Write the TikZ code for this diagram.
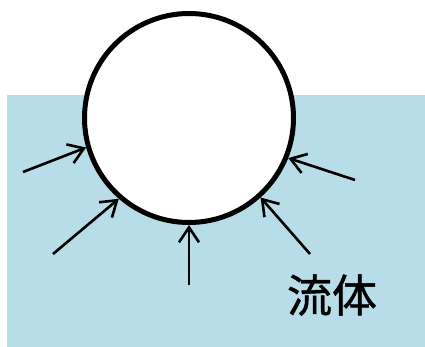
\documentclass[tikz,border=0pt]{standalone}
\usepackage{fontspec}
\newfontfamily\cjk[FakeBold=1]{Noto Sans CJK JP}
\usetikzlibrary{arrows.meta}
\definecolor{fluid}{RGB}{183,221,232}
\begin{document}
\begin{tikzpicture}[x=1pt,y=-1pt,
  push/.style={-{Straight Barb[length=15pt,width=20pt,line width=2.6pt]},line width=2.6pt,black},
  ballstyle/.style={circle,draw=black,fill=white,line width=5pt,minimum size=209pt,inner sep=0pt}]
\useasboundingbox (0,0) rectangle (425,347);
\fill[fluid] (7,95) rectangle (425,347);
\node[ballstyle] (ball) at (189,118) {};
\coordinate (t1) at (23,172);
\coordinate (t2) at (53,254);
\coordinate (t3) at (189,285);
\coordinate (t4) at (310,254);
\coordinate (t5) at (355,180);
\draw[push] (t1) -- (ball.196);
\draw[push] (t2) -- (ball.229);
\draw[push] (t3) -- (ball.270);
\draw[push] (t4) -- (ball.312);
\draw[push] (t5) -- (ball.338);
\node (label) at (332,295) {\cjk\fontsize{45}{48}\selectfont 流体};
\end{tikzpicture}
\end{document}
